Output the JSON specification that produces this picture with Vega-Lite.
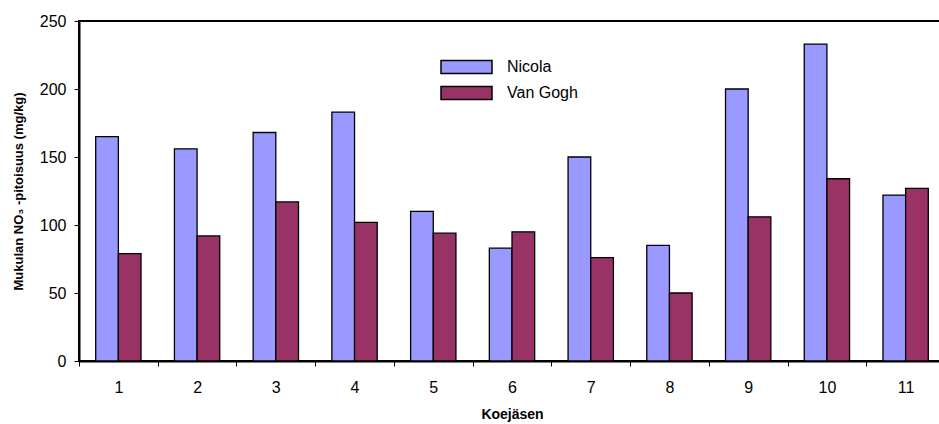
{
  "$schema": "https://vega.github.io/schema/vega-lite/v6.json",
  "width": 866,
  "height": 340,
  "autosize": "none",
  "padding": {"left": 79, "top": 21, "right": 0, "bottom": 63},
  "background": "white",
  "config": {
    "font": "Liberation Sans",
    "view": {"stroke": "black", "strokeWidth": 2}
  },
  "data": {
    "values": [
      {"koe": 1, "lajike": "Nicola", "nitraatti": 165},
      {"koe": 1, "lajike": "Van Gogh", "nitraatti": 79},
      {"koe": 2, "lajike": "Nicola", "nitraatti": 156},
      {"koe": 2, "lajike": "Van Gogh", "nitraatti": 92},
      {"koe": 3, "lajike": "Nicola", "nitraatti": 168},
      {"koe": 3, "lajike": "Van Gogh", "nitraatti": 117},
      {"koe": 4, "lajike": "Nicola", "nitraatti": 183},
      {"koe": 4, "lajike": "Van Gogh", "nitraatti": 102},
      {"koe": 5, "lajike": "Nicola", "nitraatti": 110},
      {"koe": 5, "lajike": "Van Gogh", "nitraatti": 94},
      {"koe": 6, "lajike": "Nicola", "nitraatti": 83},
      {"koe": 6, "lajike": "Van Gogh", "nitraatti": 95},
      {"koe": 7, "lajike": "Nicola", "nitraatti": 150},
      {"koe": 7, "lajike": "Van Gogh", "nitraatti": 76},
      {"koe": 8, "lajike": "Nicola", "nitraatti": 85},
      {"koe": 8, "lajike": "Van Gogh", "nitraatti": 50},
      {"koe": 9, "lajike": "Nicola", "nitraatti": 200},
      {"koe": 9, "lajike": "Van Gogh", "nitraatti": 106},
      {"koe": 10, "lajike": "Nicola", "nitraatti": 233},
      {"koe": 10, "lajike": "Van Gogh", "nitraatti": 134},
      {"koe": 11, "lajike": "Nicola", "nitraatti": 122},
      {"koe": 11, "lajike": "Van Gogh", "nitraatti": 127}
    ]
  },
  "mark": {"type": "bar", "stroke": "black", "strokeWidth": 1.3},
  "encoding": {
    "x": {
      "field": "koe",
      "type": "ordinal",
      "sort": null,
      "scale": {"paddingInner": 0, "paddingOuter": 0},
      "axis": {
        "title": "Koejäsen",
        "titleFontSize": 14,
        "titleFontWeight": "bold",
        "titleColor": "black",
        "titlePadding": 12,
        "labelAngle": 0,
        "labelFontSize": 16,
        "labelColor": "black",
        "labelPadding": 13,
        "tickBand": "extent",
        "tickSize": 5,
        "tickColor": "black",
        "tickWidth": 1,
        "domainColor": "black",
        "domainWidth": 2
      }
    },
    "xOffset": {
      "field": "lajike",
      "sort": ["Nicola", "Van Gogh"],
      "scale": {"paddingInner": 0, "paddingOuter": 0.737}
    },
    "y": {
      "field": "nitraatti",
      "type": "quantitative",
      "scale": {"domain": [0, 250]},
      "axis": {
        "title": "Mukulan NO₃ -pitoisuus (mg/kg)",
        "titleFontSize": 13,
        "titleFontWeight": "bold",
        "titleColor": "black",
        "titlePadding": 14,
        "values": [0, 50, 100, 150, 200, 250],
        "grid": false,
        "labelFontSize": 16,
        "labelColor": "black",
        "labelPadding": 8,
        "tickSize": 5,
        "tickColor": "black",
        "tickWidth": 1,
        "domainColor": "black",
        "domainWidth": 2
      }
    },
    "color": {
      "field": "lajike",
      "type": "nominal",
      "scale": {"domain": ["Nicola", "Van Gogh"], "range": ["#9999FF", "#993366"]},
      "legend": {
        "title": null,
        "orient": "none",
        "legendX": 361,
        "legendY": 38,
        "padding": 0,
        "symbolType": "M-1,-0.255H1V0.255H-1Z",
        "symbolSize": 2601,
        "symbolStrokeColor": "black",
        "symbolStrokeWidth": 1.5,
        "symbolOpacity": 1,
        "labelFontSize": 16,
        "labelColor": "black",
        "labelOffset": 14,
        "clipHeight": 16,
        "rowPadding": 10
      }
    }
  }
}
